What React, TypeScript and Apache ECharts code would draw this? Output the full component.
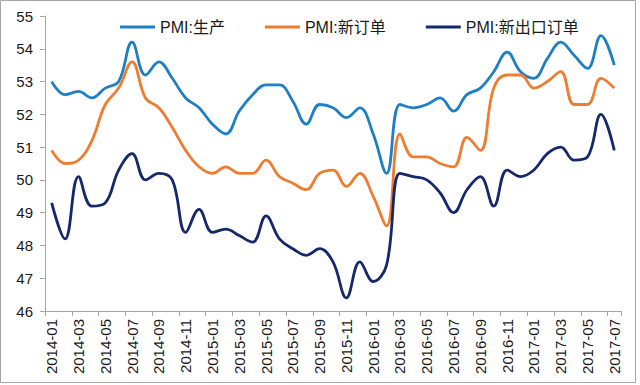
import React, { useEffect, useRef } from "react";
import * as echarts from "echarts";

const months: string[] = [
  "2014-01","2014-02","2014-03","2014-04","2014-05","2014-06","2014-07","2014-08","2014-09","2014-10","2014-11","2014-12",
  "2015-01","2015-02","2015-03","2015-04","2015-05","2015-06","2015-07","2015-08","2015-09","2015-10","2015-11","2015-12",
  "2016-01","2016-02","2016-03","2016-04","2016-05","2016-06","2016-07","2016-08","2016-09","2016-10","2016-11","2016-12",
  "2017-01","2017-02","2017-03","2017-04","2017-05","2017-06","2017-07",
];

const production: number[] = [
  53.0, 52.6, 52.7, 52.5, 52.8, 53.0, 54.2, 53.2, 53.6, 53.1, 52.5, 52.2,
  51.7, 51.4, 52.1, 52.6, 52.9, 52.9, 52.4, 51.7, 52.3, 52.2, 51.9, 52.2,
  51.4, 50.2, 52.3, 52.2, 52.3, 52.5, 52.1, 52.6, 52.8, 53.3, 53.9, 53.3,
  53.1, 53.7, 54.2, 53.8, 53.4, 54.4, 53.5,
];

const newOrders: number[] = [
  50.9, 50.5, 50.6, 51.2, 52.3, 52.8, 53.6, 52.5, 52.2, 51.6, 50.9, 50.4,
  50.2, 50.4, 50.2, 50.2, 50.6, 50.1, 49.9, 49.7, 50.2, 50.3, 49.8, 50.2,
  49.5, 48.6, 51.4, 50.7, 50.7, 50.5, 50.4, 51.3, 50.9, 52.8, 53.2, 53.2,
  52.8, 53.0, 53.3, 52.3, 52.3, 53.1, 52.8,
];

const newExportOrders: number[] = [
  49.3, 48.2, 50.1, 49.2, 49.3, 50.3, 50.8, 50.0, 50.2, 50.0, 48.4, 49.1,
  48.4, 48.5, 48.3, 48.1, 48.9, 48.2, 47.9, 47.7, 47.9, 47.5, 46.4, 47.5,
  46.9, 47.4, 50.2, 50.1, 50.0, 49.6, 49.0, 49.7, 50.1, 49.2, 50.3, 50.1,
  50.3, 50.8, 51.0, 50.6, 50.7, 52.0, 50.9,
];

const seriesNames: string[] = ["PMI:生产", "PMI:新订单", "PMI:新出口订单"];
const seriesColors: string[] = ["#1f7fc4", "#ed7d31", "#15286b"];

export default function App() {
  const ref = useRef<HTMLDivElement>(null);
  useEffect(() => {
    if (!ref.current) return;
    const chart = echarts.init(ref.current, null, { renderer: "svg" });
    const font = "'Liberation Sans', 'Noto Sans CJK SC', sans-serif";
    const datasets = [production, newOrders, newExportOrders];
    chart.setOption({
      animation: false,
      backgroundColor: "#ffffff",
      textStyle: { fontFamily: font },
      graphic: [
        {
          type: "rect",
          shape: { x: 0.5, y: 0.5, width: 635, height: 382 },
          style: { fill: "none", stroke: "#a6a6a6", lineWidth: 1 },
          silent: true,
        },
      ],
      legend: {
        data: seriesNames,
        left: 115,
        top: 14,
        icon: "rect",
        itemWidth: 35,
        itemHeight: 3,
        itemGap: 40,
        textStyle: { fontSize: 16, color: "#1a1a1a", fontFamily: font },
      },
      grid: { left: 45, right: 19, top: 16, bottom: 74, containLabel: false },
      xAxis: {
        type: "category",
        data: months,
        boundaryGap: true,
        axisLine: { show: true, lineStyle: { color: "#a6a6a6", width: 1 } },
        axisTick: { show: true, interval: 1, length: 5, lineStyle: { color: "#a6a6a6" } },
        axisLabel: {
          interval: 1,
          rotate: 90,
          fontSize: 15,
          color: "#1a1a1a",
          margin: 8,
          fontFamily: font,
        },
        splitLine: { show: false },
      },
      yAxis: {
        type: "value",
        min: 46,
        max: 55,
        interval: 1,
        axisLine: { show: true, lineStyle: { color: "#a6a6a6", width: 1 } },
        axisTick: { show: true, length: 5, lineStyle: { color: "#a6a6a6" } },
        axisLabel: { fontSize: 15, color: "#1a1a1a", margin: 12, fontFamily: font },
        splitLine: { show: false },
      },
      series: seriesNames.map((name, i) => ({
        name,
        type: "line",
        data: datasets[i],
        smooth: 0.4,
        showSymbol: false,
        symbol: "none",
        lineStyle: { color: seriesColors[i], width: 2.8 },
        itemStyle: { color: seriesColors[i] },
      })),
    });
    return () => chart.dispose();
  }, []);
  return (
    <div
      ref={ref}
      style={{ position: "fixed", left: 0, top: 0, width: 640, height: 385 }}
    />
  );
}
